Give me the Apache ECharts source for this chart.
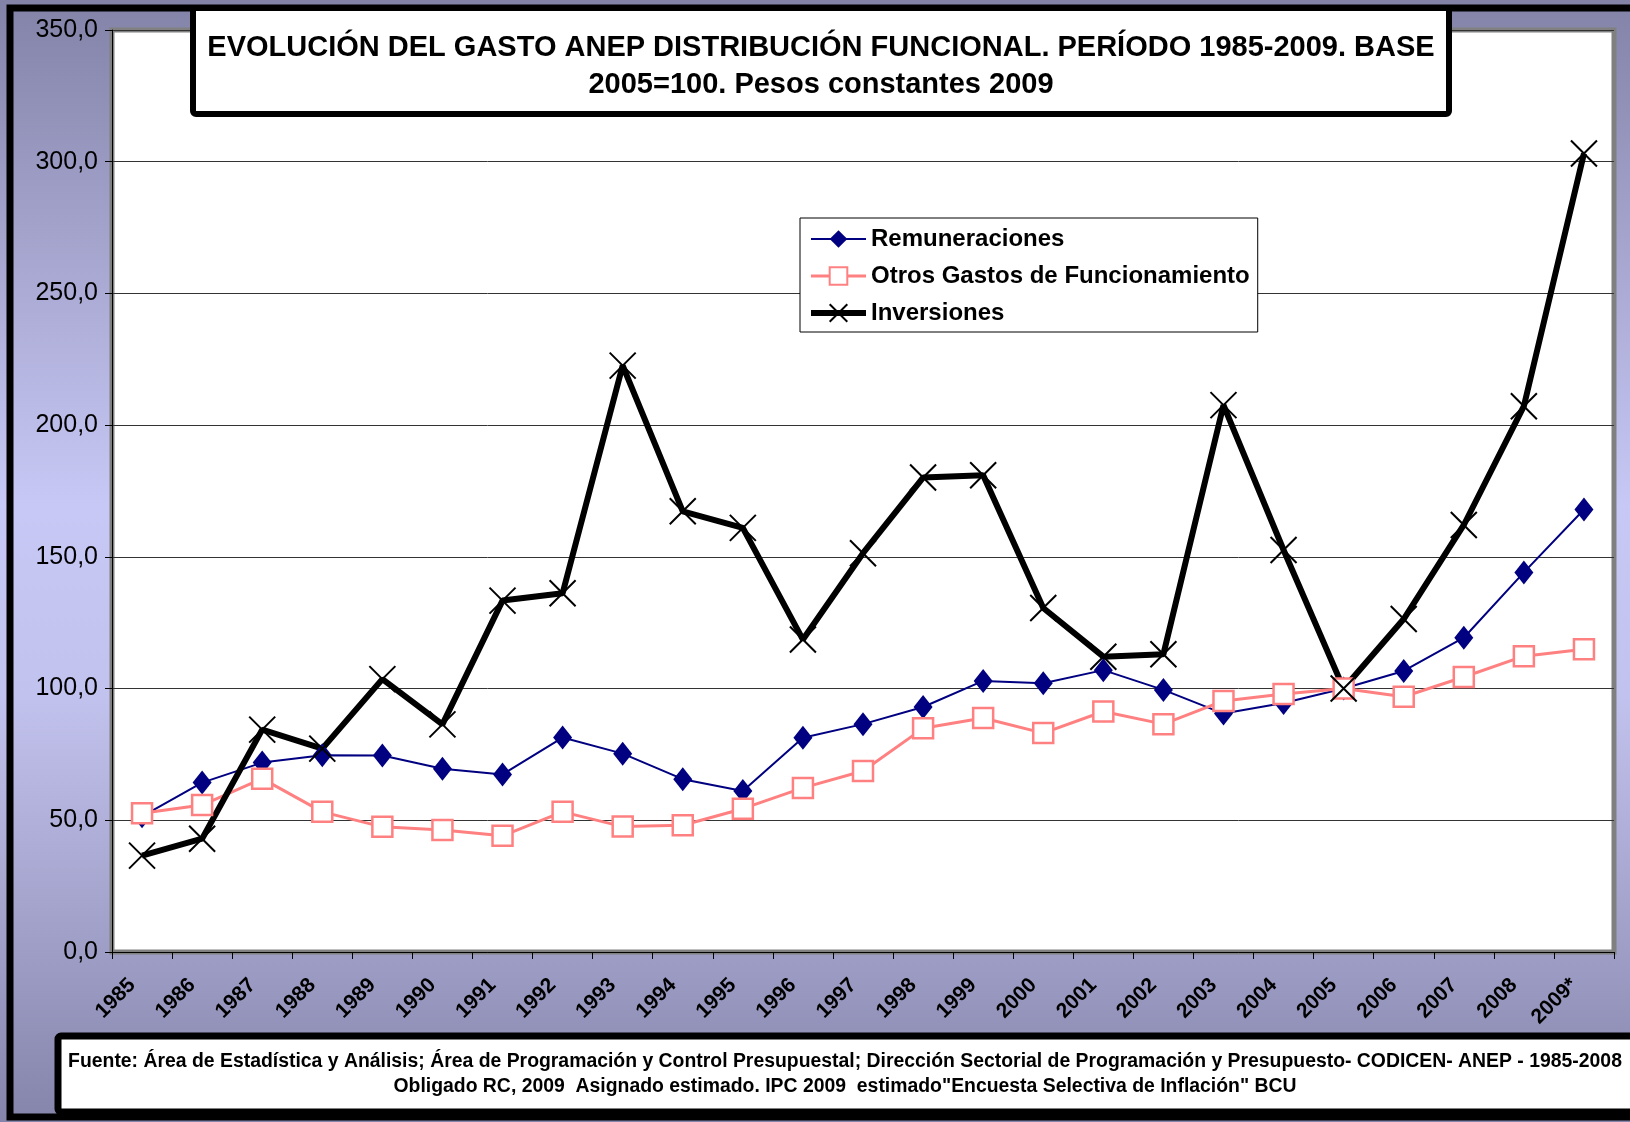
<!DOCTYPE html>
<html>
<head>
<meta charset="utf-8">
<script src="https://cdn.jsdelivr.net/npm/echarts@6/dist/echarts.min.js"></script>
<style>
  html, body { margin: 0; padding: 0; }
  #main { width: 1630px; height: 1122px; }
</style>
</head>
<body>
<div id="main"></div>
<script>
// años
const years = ['1985','1986','1987','1988','1989','1990','1991','1992','1993','1994','1995','1996',
  '1997','1998','1999','2000','2001','2002','2003','2004','2005','2006','2007','2008','2009*'];
// valores (base 2005=100)
const remuneraciones = [51.5, 64.3, 71.9, 74.7, 74.6, 69.6, 67.4, 81.4, 75.3, 65.6, 61.1, 81.3,
  86.5, 93.0, 102.9, 102.0, 107.0, 99.5, 90.5, 94.5, 100.0, 106.7, 119.3, 144.1, 168.0];
const otrosGastos = [52.7, 55.8, 65.8, 53.2, 47.5, 46.3, 44.1, 53.2, 47.6, 48.1, 54.4, 62.3,
  68.7, 84.9, 88.8, 83.1, 91.3, 86.5, 95.3, 97.9, 100.0, 96.9, 104.4, 112.3, 114.9];
const inversiones = [36.6, 43.0, 84.4, 77.2, 103.6, 86.4, 133.4, 136.2, 222.6, 167.3, 161.0, 118.6,
  151.4, 180.1, 181.0, 130.6, 112.1, 113.0, 207.6, 152.6, 100.0, 126.4, 162.1, 207.2, 303.1];

const titulo = 'EVOLUCIÓN DEL GASTO ANEP DISTRIBUCIÓN FUNCIONAL. PERÍODO 1985-2009. BASE\n2005=100. Pesos constantes 2009';
const fuente = 'Fuente: Área de Estadística y Análisis; Área de Programación y Control Presupuestal; Dirección Sectorial de Programación y Presupuesto- CODICEN- ANEP - 1985-2008\nObligado RC, 2009  Asignado estimado. IPC 2009  estimado"Encuesta Selectiva de Inflación" BCU';

const font = 'Arial, "Liberation Sans", sans-serif';
const cruz = 'path://M0,0L10,10M10,0L0,10';

let chart = echarts.init(document.getElementById('main'));

let option = {
  animation: false,
  textStyle: { fontFamily: font },
  graphic: [
    {
      type: 'rect', z: -100,
      shape: { x: 0, y: 0, width: 1630, height: 1122 },
      style: {
        fill: new echarts.graphic.LinearGradient(0, 0, 0, 1, [
          { offset: 0, color: '#8383a8' },
          { offset: 0.45, color: '#c8c8f6' },
          { offset: 0.62, color: '#c2c2ee' },
          { offset: 1, color: '#8585ab' }
        ])
      }
    },
    {
      type: 'rect', z: -99,
      shape: { x: 10, y: 8, width: 1700, height: 1109 },
      style: { fill: 'none', stroke: '#000', lineWidth: 7 }
    },
    {
      type: 'rect', z: 5,
      shape: { x: 193, y: 8, width: 1256, height: 106, r: 3 },
      style: { fill: '#fff', stroke: '#000', lineWidth: 6 }
    },
    {
      type: 'rect', z: 5,
      shape: { x: 58, y: 1036, width: 1640, height: 76, r: 3 },
      style: { fill: '#fff', stroke: '#000', lineWidth: 7 }
    }
  ],
  title: [
    {
      text: titulo,
      left: 821, top: 29, textAlign: 'center', padding: 0, z: 10,
      textStyle: { fontSize: 29, fontWeight: 'bold', color: '#000', lineHeight: 37, fontFamily: font }
    },
    {
      text: fuente,
      left: 845, top: 1049, textAlign: 'center', padding: 0, z: 10,
      textStyle: { fontSize: 19.4, fontWeight: 'bold', color: '#000', lineHeight: 25, fontFamily: font }
    }
  ],
  legend: {
    orient: 'vertical',
    left: 800, top: 218,
    padding: [9, 8, 7, 8],
    itemGap: 13,
    itemWidth: 55, itemHeight: 22,
    backgroundColor: '#fff',
    borderColor: '#000', borderWidth: 1,
    textStyle: { fontSize: 24, fontWeight: 'bold', color: '#000' },
    data: [
      { name: 'Remuneraciones', lineStyle: { width: 2 } },
      { name: 'Otros Gastos de Funcionamiento', lineStyle: { width: 3 } },
      { name: 'Inversiones', lineStyle: { width: 6 } }
    ]
  },
  grid: {
    left: 112, right: 16, top: 30, bottom: 170,
    show: true, backgroundColor: '#fff',
    borderColor: '#808080', borderWidth: 5
  },
  xAxis: {
    type: 'category',
    data: years,
    boundaryGap: true,
    axisLine: { lineStyle: { color: '#000', width: 1 } },
    axisTick: { show: true, length: 7, lineStyle: { color: '#000' } },
    axisLabel: {
      interval: 0, rotate: 45, margin: 20, padding: [0, 14, 0, 0],
      fontSize: 21, fontWeight: 'bold', color: '#000'
    }
  },
  yAxis: {
    type: 'value',
    min: 0, max: 350, interval: 50,
    axisLine: { show: true, lineStyle: { color: '#000', width: 1 } },
    axisTick: { show: true, length: 7, lineStyle: { color: '#000' } },
    axisLabel: {
      fontSize: 25, color: '#000', margin: 14,
      formatter: v => v.toFixed(1).replace('.', ',')
    },
    splitLine: { lineStyle: { color: '#333', width: 1 } }
  },
  series: [
    {
      name: 'Remuneraciones',
      type: 'line',
      data: remuneraciones,
      symbol: 'diamond', symbolSize: [19, 24],
      lineStyle: { color: '#000080', width: 2 },
      itemStyle: { color: '#000080' }
    },
    {
      name: 'Otros Gastos de Funcionamiento',
      type: 'line',
      data: otrosGastos,
      symbol: 'rect', symbolSize: 20,
      lineStyle: { color: '#ff8080', width: 3 },
      itemStyle: { color: '#fff', borderColor: '#ff8080', borderWidth: 2.5 }
    },
    {
      name: 'Inversiones',
      type: 'line',
      data: inversiones,
      symbol: cruz, symbolSize: 26,
      lineStyle: { color: '#000', width: 6 },
      itemStyle: { color: 'transparent', borderColor: '#000', borderWidth: 2 }
    }
  ]
};
chart.setOption(option);
window.onresize = function () {
  chart.resize();
};
</script>
</body>
</html>
